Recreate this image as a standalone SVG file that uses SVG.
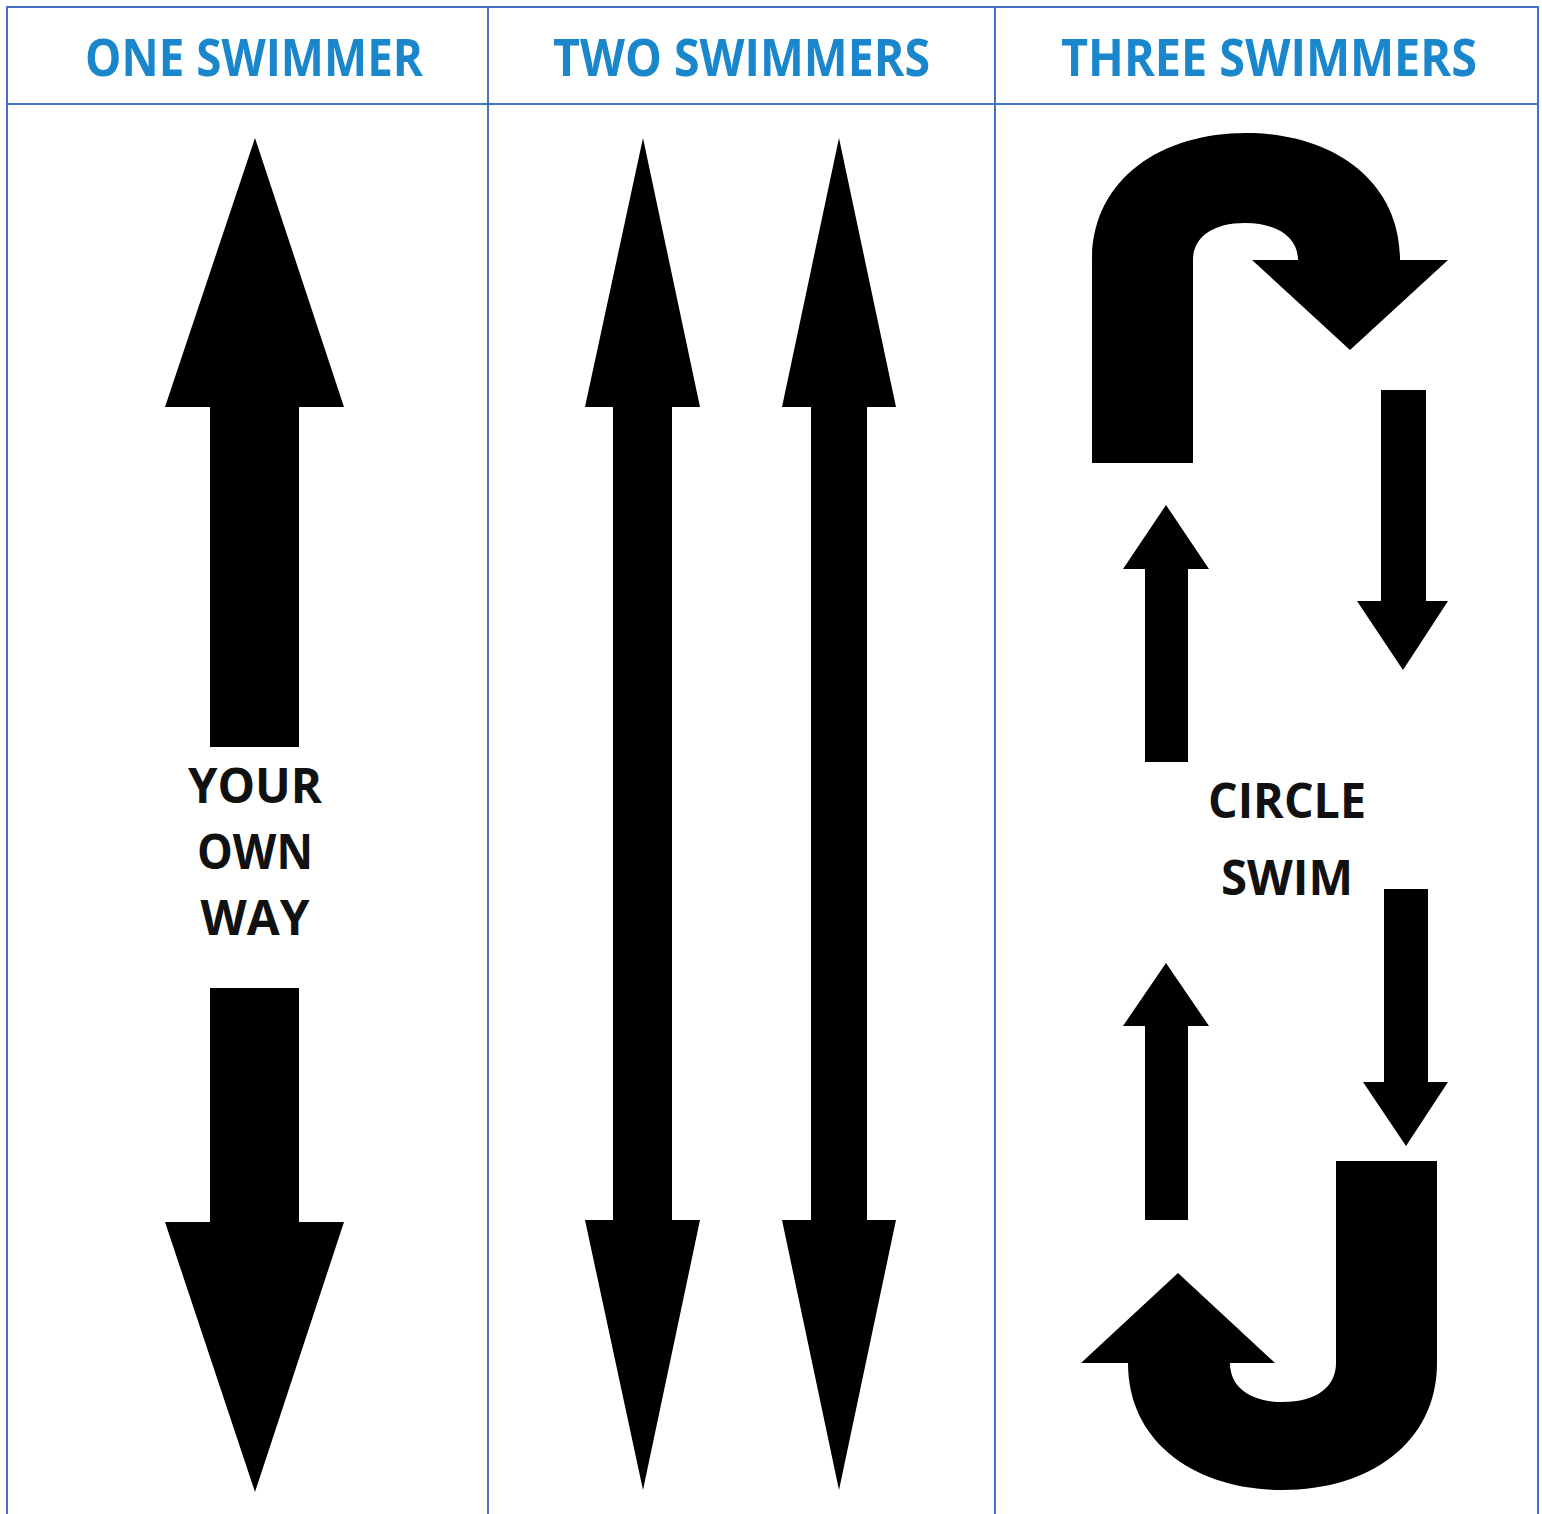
<svg xmlns="http://www.w3.org/2000/svg" width="1542" height="1514" viewBox="0 0 1542 1514">
<style>
.grid{stroke:#4472C4;stroke-width:2;fill:none}
.hdr{font-family:"Open Sans","Liberation Sans",sans-serif;font-weight:700;font-size:52px;fill:#1A86CC;text-anchor:middle}
.lbl{font-family:"Open Sans","Liberation Sans",sans-serif;font-weight:700;font-size:48px;fill:#111;text-anchor:middle}
.arr{fill:#000}
</style>
<rect width="1542" height="1514" fill="#fff"/>
<g id="table">
<path class="grid" d="M7,1514 V7 H1538 V1514 M7,104 H1538 M488,7 V1514 M995,7 V1514"/>
<text class="hdr" x="254" y="76" textLength="338" lengthAdjust="spacingAndGlyphs">ONE SWIMMER</text>
<text class="hdr" x="741.5" y="76" textLength="377" lengthAdjust="spacingAndGlyphs">TWO SWIMMERS</text>
<text class="hdr" x="1269" y="76" textLength="416" lengthAdjust="spacingAndGlyphs">THREE SWIMMERS</text>
</g>
<g id="connectors">
<g id="one-swimmer-up"><path class="arr" d="M255,138 L344,407 H299 V747 H210 V407 H165 Z"/></g>
<g id="one-swimmer-down"><path class="arr" d="M210,988 H299 V1222 H344 L255,1492 L165,1222 H210 Z"/></g>
<g id="two-swimmers-left"><path class="arr" d="M643,138 L700,407 H672 V1220 H700 L643,1490 L585,1220 H613 V407 H585 Z"/></g>
<g id="two-swimmers-right"><path class="arr" d="M839,138 L896,407 H867 V1220 H896 L839,1490 L782,1220 H811 V407 H782 Z"/></g>
<g id="three-top-uturn"><path class="arr" d="M1092,463 V260 C1092,180 1160,133 1246,133 C1332,133 1400,180 1400,260 H1448 L1350,350 L1252,260 H1298 C1298,238 1278,223 1245,223 C1212,223 1193,238 1193,260 V463 Z"/></g>
<g id="three-down-1"><path class="arr" d="M1381,390 H1426 V601 H1448 L1403,670 L1357,601 H1381 Z"/></g>
<g id="three-up-1"><path class="arr" d="M1166,505 L1209,569 H1188 V762 H1145 V569 H1123 Z"/></g>
<g id="three-down-2"><path class="arr" d="M1384,889 H1428 V1082 H1448 L1406,1146 L1363,1082 H1384 Z"/></g>
<g id="three-up-2"><path class="arr" d="M1166,963 L1209,1026 H1188 V1220 H1145 V1026 H1123 Z"/></g>
<g id="three-bottom-uturn"><path class="arr" d="M1437,1161 V1363 C1437,1443 1369,1490 1282.5,1490 C1196,1490 1128,1443 1128,1363 H1081 L1178,1273 L1275,1363 H1230 C1230,1387 1250,1402 1283,1402 C1316,1402 1336,1387 1336,1363 V1161 Z"/></g>
</g>
<g id="label-your-own-way">
<text class="lbl" x="255" y="803" textLength="134" lengthAdjust="spacingAndGlyphs">YOUR</text>
<text class="lbl" x="255" y="869" textLength="116" lengthAdjust="spacingAndGlyphs">OWN</text>
<text class="lbl" x="255" y="935" textLength="109" lengthAdjust="spacingAndGlyphs">WAY</text>
</g>
<g id="label-circle-swim">
<text class="lbl" x="1287" y="818" textLength="158" lengthAdjust="spacingAndGlyphs">CIRCLE</text>
<text class="lbl" x="1287" y="895" textLength="132" lengthAdjust="spacingAndGlyphs">SWIM</text>
</g>
</svg>
